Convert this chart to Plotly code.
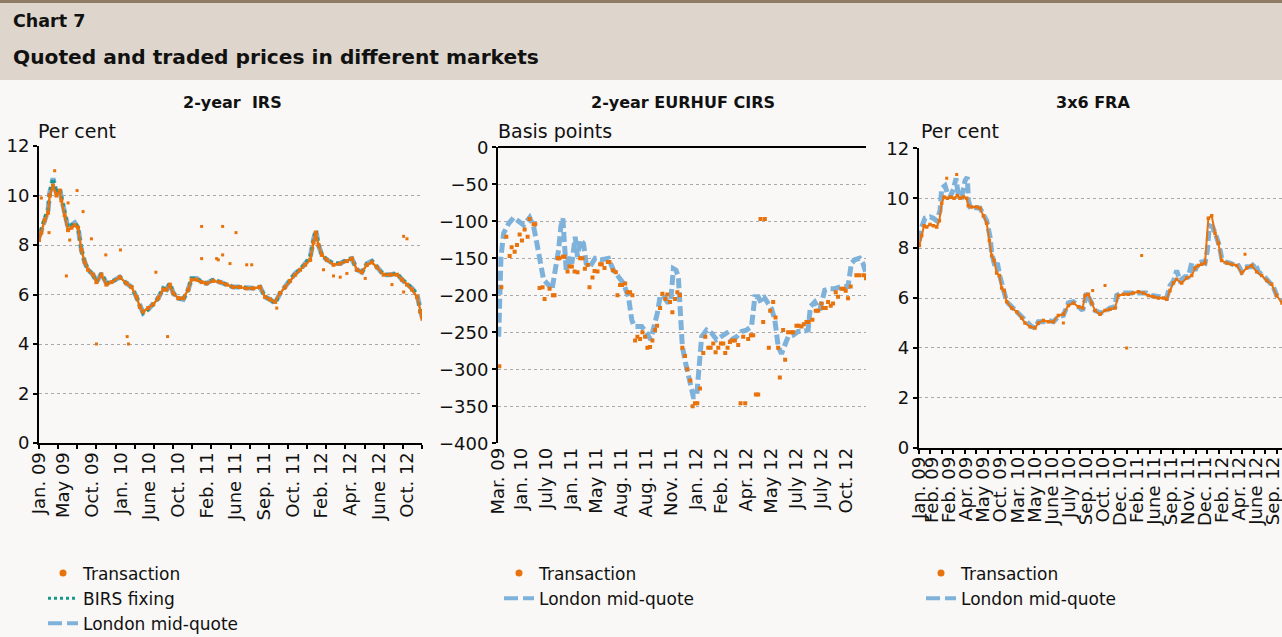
import plotly.graph_objects as go

# ---------------- data (x = observation number along each panel's axis) ----------------
# Panel 1: 2-year IRS (per cent)
irs_x = [0, 7, 17, 27, 32, 42, 52, 62, 67, 77, 87, 97, 107, 117, 127, 137, 147, 162, 172, 187,
         202, 217, 242, 262, 277, 292, 302, 312, 327, 342, 357, 372, 382, 392, 402, 417, 432, 447,
         457, 472, 487, 502, 522, 542, 562, 582, 602, 622, 642, 662, 677, 692, 707, 722, 737, 752,
         767, 782, 797, 812, 822, 829, 837, 847, 862, 882, 902, 922, 937, 952, 967, 982, 997, 1012,
         1032, 1052, 1072, 1087, 1102, 1117, 1132, 1142, 1147]
irs_london = [8.3, 8.6, 9.1, 9.4, 10.1, 10.7, 10.1, 10.3, 9.9, 9.3, 8.7, 8.8, 8.9, 8.7, 7.8, 7.3,
              7.0, 6.8, 6.5, 6.85, 6.45, 6.5, 6.7, 6.45, 6.3, 5.9, 5.5, 5.25, 5.4, 5.6, 5.85, 6.25,
              6.2, 6.45, 6.05, 5.85, 5.8, 6.2, 6.65, 6.65, 6.5, 6.45, 6.6, 6.5, 6.4, 6.3, 6.3, 6.25,
              6.25, 6.3, 5.9, 5.8, 5.65, 6.05, 6.3, 6.6, 6.85, 7.0, 7.25, 7.5, 8.2, 8.6, 8.0, 7.6,
              7.4, 7.25, 7.25, 7.4, 7.45, 7.0, 6.9, 7.25, 7.35, 7.1, 6.8, 6.8, 6.85, 6.6, 6.45, 6.25,
              6.0, 5.3, 5.1]
irs_birs = [8.3, 8.6, 9.1, 9.4, 10.1, 10.7, 10.1, 10.3, 9.9, 9.3, 8.7, 8.8, 8.9, 8.7, 7.8, 7.3,
            7.0, 6.8, 6.5, 6.85, 6.45, 6.5, 6.7, 6.45, 6.3, 5.9, 5.5, 5.25, 5.4, 5.6, 5.85, 6.25,
            6.2, 6.45, 6.05, 5.85, 5.8, 6.2, 6.65, 6.65, 6.5, 6.45, 6.6, 6.5, 6.4, 6.3, 6.3, 6.25,
            6.25, 6.3, 5.9, 5.8, 5.65, 6.05, 6.3, 6.6, 6.85, 7.0, 7.25, 7.5, 8.2, 8.6, 8.0, 7.6,
            7.4, 7.25, 7.25, 7.4, 7.45, 7.0, 6.9, 7.25, 7.35, 7.1, 6.8, 6.8, 6.85, 6.6, 6.45, 6.25,
            6.0, 5.3, 5.1]
irs_trade = [8.2, 8.5, 9.0, 9.3, 10.0, 10.4, 10.0, 10.2, 9.8, 9.2, 8.6, 8.7, 8.8, 8.7, 7.8, 7.3,
             7.0, 6.8, 6.5, 6.8, 6.4, 6.5, 6.7, 6.45, 6.3, 5.9, 5.5, 5.3, 5.45, 5.6, 5.85, 6.2,
             6.2, 6.4, 6.05, 5.85, 5.85, 6.2, 6.6, 6.6, 6.5, 6.45, 6.55, 6.5, 6.4, 6.3, 6.3, 6.25,
             6.25, 6.3, 5.9, 5.8, 5.7, 6.05, 6.3, 6.55, 6.8, 7.0, 7.2, 7.4, 8.1, 8.5, 8.0, 7.6,
             7.4, 7.2, 7.25, 7.35, 7.45, 7.0, 6.9, 7.2, 7.3, 7.1, 6.8, 6.8, 6.8, 6.6, 6.4, 6.2,
             5.9, 5.3, 5.1]
irs_out_x = [7, 30, 47, 82, 87, 92, 114, 132, 157, 172, 200, 244, 264, 268, 350, 385, 487, 487,
             532, 537, 550, 550, 572, 590, 622, 637, 712, 852, 882, 902, 922, 977, 1057, 1092,
             1102, 1092, 1147]
irs_out = [9.9, 8.5, 11.0, 6.75, 9.7, 8.2, 10.2, 9.35, 8.25, 4.0, 7.6, 7.8, 4.3, 4.0, 6.9, 4.3,
           8.75, 7.45, 7.45, 7.4, 8.75, 7.6, 7.25, 8.5, 7.2, 7.2, 5.45, 7.0, 6.75, 6.7, 6.85,
           6.65, 6.4, 8.35, 8.25, 6.1, 5.0]
irs_labels = ["Jan. 09", "May 09", "Oct. 09", "Jan. 10", "June 10", "Oct. 10", "Feb. 11",
              "June 11", "Sep. 11", "Oct. 11", "Feb. 12", "Apr. 12", "June 12", "Oct. 12"]

# Panel 2: 2-year EURHUF CIRS (basis points)
cirs_x = [2, 5, 9, 17, 32, 47, 62, 77, 95, 107, 117, 127, 137, 152, 162, 172, 182, 189, 195, 199,
          205, 212, 222, 232, 239, 247, 257, 265, 277, 292, 312, 332, 347, 362, 377, 392, 402, 409,
          432, 447, 459, 469, 479, 487, 497, 509, 519, 527, 535, 542, 547, 554, 564, 577, 587, 597,
          605, 612, 627, 642, 657, 672, 687, 702, 717, 732, 747, 762, 772, 782, 792, 802, 812, 822,
          832, 842, 852, 862, 872, 887, 902, 917, 932, 939, 952, 967, 982, 997, 1012, 1032, 1052,
          1062, 1072, 1087, 1097, 1106]
cirs_london = [-256, -200, -148, -116, -103, -95, -100, -105, -95, -107, -130, -157, -179, -186,
               -193, -166, -139, -107, -96, -125, -166, -148, -157, -121, -148, -125, -130, -157,
               -161, -150, -152, -150, -166, -175, -184, -202, -233, -242, -242, -251, -260, -242,
               -224, -202, -200, -209, -209, -164, -166, -175, -229, -269, -292, -319, -337, -337,
               -296, -256, -247, -251, -260, -256, -251, -260, -256, -249, -247, -242, -202, -202,
               -211, -204, -211, -218, -233, -269, -279, -265, -256, -254, -249, -249, -247, -215,
               -209, -220, -193, -191, -191, -188, -188, -157, -152, -150, -157, -170]
cirs_trade_x = [4, 10, 25, 35, 41, 50, 57, 65, 72, 80, 89, 95, 107, 112, 125, 134, 140, 155, 165,
                170, 180, 185, 195, 200, 209, 215, 222, 230, 239, 247, 254, 261, 270, 275, 284,
                290, 299, 307, 312, 320, 330, 335, 345, 354, 359, 367, 373, 382, 389, 397, 404,
                412, 419, 427, 434, 442, 449, 457, 464, 472, 478, 487, 494, 503, 509, 517, 524,
                532, 539, 547, 554, 562, 569, 578, 585, 592, 599, 607, 617, 623, 632, 639, 647,
                654, 662, 670, 677, 683, 690, 697, 704, 712, 722, 737, 752, 760, 767, 729, 743,
                775, 782, 789, 802, 797, 814, 818, 827, 834, 842, 847, 857, 863, 872, 882, 887,
                897, 904, 912, 919, 927, 934, 945, 955, 962, 972, 977, 985, 992, 1000, 1007, 1015,
                1022, 1032, 1039, 1045, 1052, 1060, 1077, 1087, 1100, 1106]
cirs_trade = [-296, -189, -121, -147, -135, -141, -132, -118, -126, -111, -121, -97, -104, -104,
              -190, -189, -205, -191, -200, -200, -150, -150, -148, -148, -168, -161, -161, -168,
              -169, -150, -150, -164, -159, -189, -176, -167, -168, -158, -158, -163, -155, -155,
              -166, -169, -200, -186, -186, -184, -196, -196, -200, -261, -256, -259, -250, -256,
              -271, -270, -261, -247, -241, -217, -198, -205, -199, -209, -223, -205, -196, -200,
              -271, -282, -300, -315, -350, -346, -346, -326, -278, -256, -271, -271, -265, -277,
              -271, -265, -265, -278, -271, -263, -261, -261, -267, -256, -259, -254, -254, -346,
              -346, -334, -334, -97, -97, -236, -271, -221, -209, -230, -271, -311, -247, -287,
              -250, -250, -250, -241, -241, -242, -239, -236, -236, -233, -221, -221, -211, -217,
              -217, -209, -214, -211, -196, -202, -191, -191, -194, -204, -188, -173, -173, -173,
              -177]
cirs_labels = ["Mar. 09", "Jan. 10", "July 10", "Jan. 11", "May 11", "Aug. 11", "Aug. 11",
               "Nov. 11", "Jan. 12", "Feb. 12", "Apr. 12", "May 12", "July 12", "July 12", "Oct. 12"]

# Panel 3: 3x6 FRA (per cent)
fra_x = [2, 9, 19, 34, 44, 54, 64, 69, 79, 86, 94, 104, 112, 119, 129, 139, 146, 149, 154, 169,
         184, 194, 204, 214, 219, 229, 236, 244, 254, 264, 279, 294, 309, 324, 339, 349, 359, 374,
         389, 404, 419, 434, 449, 464, 479, 492, 504, 516, 529, 544, 559, 574, 589, 594, 609, 624,
         639, 654, 669, 684, 699, 714, 729, 744, 754, 764, 774, 784, 799, 809, 819, 829, 839, 849,
         859, 866, 872, 882, 892, 902, 909, 919, 934, 949, 959, 969, 984, 999, 1009, 1019, 1034,
         1049, 1064, 1074, 1090]
fra_london = [8.3, 8.85, 9.2, 9.25, 9.2, 9.1, 9.5, 10.4, 10.5, 10.2, 10.05, 10.35, 10.8, 10.1,
              10.05, 10.7, 10.85, 9.95, 9.65, 9.6, 9.6, 9.35, 9.1, 8.45, 7.8, 7.25, 7.4, 6.85, 6.3,
              5.85, 5.65, 5.45, 5.2, 5.0, 4.85, 4.8, 5.05, 5.05, 5.1, 5.05, 5.25, 5.3, 5.8, 5.85,
              5.65, 5.5, 6.2, 5.85, 5.5, 5.4, 5.45, 5.6, 5.65, 6.1, 6.2, 6.2, 6.2, 6.2, 6.25, 6.2,
              6.1, 6.05, 6.0, 6.0, 6.5, 6.65, 7.1, 6.7, 6.85, 6.85, 7.4, 7.1, 7.4, 7.45, 7.4, 7.9,
              8.9, 8.85, 8.5, 8.1, 7.6, 7.45, 7.4, 7.3, 7.3, 7.05, 7.25, 7.25, 7.4, 7.05, 6.9, 6.7,
              6.45, 6.1, 5.9]
fra_trade_x = [2, 9, 16, 24, 34, 44, 54, 62, 69, 76, 86, 96, 106, 116, 124, 134, 144, 149, 159,
               174, 184, 194, 204, 212, 219, 226, 234, 242, 249, 256, 264, 279, 294, 309, 319, 334,
               349, 359, 374, 389, 404, 419, 434, 449, 464, 479, 492, 499, 509, 519, 529, 544, 559,
               574, 589, 599, 614, 629, 644, 659, 674, 689, 704, 719, 734, 744, 754, 764, 774, 789,
               804, 819, 829, 839, 849, 859, 869, 879, 889, 899, 909, 924, 939, 954, 969, 984, 999,
               1014, 1029, 1044, 1059, 1074, 1090]
fra_trade = [8.1, 8.5, 8.9, 8.85, 8.95, 8.9, 8.85, 9.1, 9.8, 10.05, 10.0, 10.05, 10.0, 10.1, 10.0,
             10.05, 10.0, 9.7, 9.65, 9.65, 9.6, 9.3, 9.0, 8.3, 7.7, 7.5, 7.0, 6.9, 6.4, 6.3, 5.85,
             5.6, 5.45, 5.2, 5.0, 4.85, 4.8, 5.0, 5.1, 5.05, 5.05, 5.3, 5.35, 5.7, 5.8, 5.65, 5.6,
             6.1, 6.15, 5.8, 5.5, 5.35, 5.5, 5.55, 5.6, 6.1, 6.15, 6.15, 6.2, 6.25, 6.2, 6.1, 6.05,
             6.0, 6.0, 5.95, 6.3, 6.6, 6.75, 6.6, 6.8, 6.9, 7.2, 7.3, 7.35, 7.4, 9.2, 9.3, 8.6, 8.2,
             7.5, 7.4, 7.35, 7.3, 7.0, 7.2, 7.3, 7.05, 6.9, 6.7, 6.55, 6.1, 5.8]
fra_out_x = [669, 624, 559, 979, 522, 434, 114, 84]
fra_out = [7.7, 4.0, 6.5, 7.75, 6.3, 5.0, 10.95, 10.8]
fra_labels = ["Jan. 09", "Feb. 09", "Feb. 09", "Apr. 09", "May 09", "Oct. 09", "Mar. 10",
              "May 10", "June 10", "July 10", "Sep. 10", "Oct. 10", "Dec. 10", "Feb. 11",
              "June 11", "Sep. 11", "Nov. 11", "Dec. 11", "Feb. 12", "Apr. 12", "June 12", "Sep. 12"]

# ---------------- styling ----------------
W, H = 1282, 637
FONT = "DejaVu Sans"
ORANGE = "#E8720C"
BLUE = "#7FB2DA"
TEAL = "#17998A"
GRID = "#A8A8A8"
BG = "#F9F8F6"

def px(x):
    return x / W

def py(y):
    return (H - y) / H

fig = go.Figure()

def quote(x, y, xa, ya):
    fig.add_trace(go.Scatter(x=x, y=y, xaxis=xa, yaxis=ya, mode="lines", showlegend=False,
                             line=dict(color=BLUE, width=5, dash="10px,4px"), hoverinfo="skip"))

def trades_band(x, y, xa, ya, size=4, width=2.4):
    fig.add_trace(go.Scatter(x=x, y=y, xaxis=xa, yaxis=ya, mode="lines+markers", showlegend=False,
                             line=dict(color=ORANGE, width=width),
                             marker=dict(color=ORANGE, size=size, symbol="square"), hoverinfo="skip"))

def trades_pts(x, y, xa, ya, size=3):
    fig.add_trace(go.Scatter(x=x, y=y, xaxis=xa, yaxis=ya, mode="markers", showlegend=False,
                             marker=dict(color=ORANGE, size=size, symbol="square"), hoverinfo="skip"))

# Panel 1
quote(irs_x, irs_london, "x", "y")
fig.add_trace(go.Scatter(x=irs_x, y=irs_birs, xaxis="x", yaxis="y", mode="lines", showlegend=False,
                         line=dict(color=TEAL, width=3.5, dash="dot"), hoverinfo="skip"))
trades_band(irs_x, irs_trade, "x", "y")
trades_pts(irs_out_x, irs_out, "x", "y")
# Panel 2
quote(cirs_x, cirs_london, "x2", "y2")
trades_pts(cirs_trade_x, cirs_trade, "x2", "y2", size=4)
# Panel 3
quote(fra_x, fra_london, "x3", "y3")
trades_band(fra_trade_x, fra_trade, "x3", "y3", size=3.5, width=2)
trades_pts(fra_out_x, fra_out, "x3", "y3")

# legend entries
def leg_entries(legend, xa, ya, with_birs):
    fig.add_trace(go.Scatter(x=[None], y=[None], xaxis=xa, yaxis=ya, mode="markers", name="Transaction",
                             legend=legend, marker=dict(color=ORANGE, size=7, symbol="circle")))
    if with_birs:
        fig.add_trace(go.Scatter(x=[None], y=[None], xaxis=xa, yaxis=ya, mode="lines", name="BIRS fixing",
                                 legend=legend, line=dict(color=TEAL, width=3, dash="dot")))
    fig.add_trace(go.Scatter(x=[None], y=[None], xaxis=xa, yaxis=ya, mode="lines", name="London mid-quote",
                             legend=legend, line=dict(color=BLUE, width=4, dash="14px,5px")))

leg_entries("legend", "x", "y", True)
leg_entries("legend2", "x2", "y2", False)
leg_entries("legend3", "x3", "y3", False)

tickfont = dict(family=FONT, size=18, color="#111111")

def label_positions(n, step, offset):
    return [max(0.0, offset + step * i) for i in range(n)]

def xaxis_cfg(dom, rng, labels, step, offset, tick_step, nticks):
    cfg = dict(domain=dom, range=rng, showgrid=False, zeroline=False, automargin=False,
               tickmode="array", tickvals=label_positions(len(labels), step, offset),
               ticktext=labels, tickangle=-90, ticks="", tickfont=tickfont, fixedrange=True,
               ticklabeloverflow="allow")
    if tick_step:
        cfg.update(showline=True, linecolor="black", linewidth=2,
                   minor=dict(tickmode="array", tickvals=[tick_step * k for k in range(nticks)],
                              ticks="outside", ticklen=4, tickwidth=2, tickcolor="black"))
    else:
        cfg.update(showline=False)
    return cfg

def yaxis_cfg(dom, rng, dtick, anchor):
    return dict(domain=dom, range=rng, anchor=anchor, dtick=dtick, tick0=0, automargin=False,
                showline=True, linecolor="black", linewidth=2,
                ticks="outside", ticklen=4, tickwidth=1.5, tickcolor="black",
                showgrid=True, gridcolor=GRID, griddash="dot", gridwidth=1,
                zeroline=False, tickfont=tickfont, fixedrange=True)

fig.update_layout(
    xaxis=dict(xaxis_cfg([px(39), px(422)], [0, 1147], irs_labels, 85.8, -12, 57.35, 21), anchor="y"),
    yaxis=yaxis_cfg([py(443), py(146)], [0, 12], 2, "x"),
    xaxis2=dict(xaxis_cfg([px(498), px(866)], [0, 1106], cirs_labels, 75.27, -6, None, 0), anchor="y2"),
    yaxis2=dict(yaxis_cfg([py(443.3), py(147.3)], [-400, 0], 50, "x2"),
                zeroline=True, zerolinecolor="black", zerolinewidth=2),
    xaxis3=dict(xaxis_cfg([px(918.7), 1.0], [0, 1090], fra_labels, 51.15, -10, 34.65, 32), anchor="y3"),
    yaxis3=yaxis_cfg([py(447.7), py(148.3)], [0, 12], 2, "x3"),
)

legend_common = dict(font=dict(family=FONT, size=17, color="#111111"), bgcolor="rgba(0,0,0,0)",
                     xanchor="left", yanchor="top", tracegroupgap=0, itemclick=False,
                     itemdoubleclick=False)
fig.update_layout(
    legend=dict(legend_common, x=px(43), y=py(555.5)),
    legend2=dict(legend_common, x=px(499), y=py(555.5)),
    legend3=dict(legend_common, x=px(921), y=py(555.5)),
)

# header band
fig.add_shape(type="rect", xref="paper", yref="paper", x0=0, x1=1, y0=py(80), y1=1,
              fillcolor="#DED6CC", line=dict(width=0), layer="below")
fig.add_shape(type="rect", xref="paper", yref="paper", x0=0, x1=1, y0=py(3), y1=1,
              fillcolor="#8E7C64", line=dict(width=0), layer="below")

def ann(text, x, y, size, bold=False, xanchor="left"):
    fig.add_annotation(text=f"<b>{text}</b>" if bold else text, xref="paper", yref="paper",
                       x=px(x), y=py(y), xanchor=xanchor, yanchor="middle", showarrow=False,
                       font=dict(family=FONT, size=size, color="#111111"))

ann("Chart 7", 11, 21, 17.5, True)
ann("Quoted and traded prices in different markets", 11, 57, 20.2, True)
ann("2-year  IRS", 232, 102, 16, True, "center")
ann("2-year EURHUF CIRS", 683, 102, 16, True, "center")
ann("3x6 FRA", 1093, 102, 16, True, "center")
ann("Per cent", 36, 131, 19)
ann("Basis points", 496, 131, 19)
ann("Per cent", 919, 131, 19)

fig.update_layout(width=W, height=H, margin=dict(l=0, r=0, t=0, b=0, autoexpand=False),
                  paper_bgcolor=BG, plot_bgcolor=BG, showlegend=True)

fig.write_html("out.html", config=dict(displayModeBar=False),
               post_script="document.body.style.margin='0px';document.body.style.overflow='hidden';")
